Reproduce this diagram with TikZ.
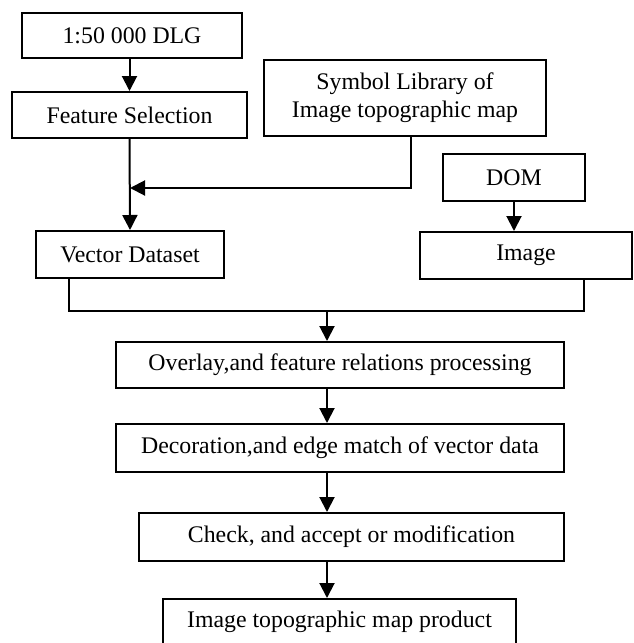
\documentclass[tikz,border=0pt]{standalone}
\usepackage{fontspec}
\setmainfont{Liberation Serif}
\usepackage{tikz}
\usetikzlibrary{positioning,calc,arrows.meta}

\begin{document}
\begin{tikzpicture}[x=0.5pt,y=-0.5pt,
		box/.style={rectangle,draw,line width=1pt,inner sep=0pt,align=center,font=\fontsize{11.9}{14}\selectfont},
		arw/.style={line width=1pt,-{Triangle[length=7.5pt,width=7.5pt]}}]
		
		\useasboundingbox (0,0) rectangle (633,643);
		
		\node[box,minimum width=110pt,minimum height=22.5pt] (D) at (132,35.5){1:50 000 DLG};
		\node[box,minimum width=117.5pt,minimum height=23pt] (F) at (129.5,115){Feature Selection};
		\node[box,minimum width=141pt,minimum height=38pt] (S) at (405,98){Symbol Library of\\Image topographic map};
		\node[box,minimum width=71pt,minimum height=23.5pt] (M) at (514,177.5){DOM};
		\node[box,minimum width=94pt,minimum height=23.5pt] (V) at (130,254.5){Vector Dataset};
		\node[box,minimum width=106pt,minimum height=23.5pt] (I) at (526,255.5){Image};
		\node[box,minimum width=224pt,minimum height=23pt] (O) at (340,365){Overlay,and feature relations processing};
		\node[box,minimum width=224pt,minimum height=24pt] (E) at (340,448){Decoration,and edge match of vector data};
		\node[box,minimum width=212.5pt,minimum height=24pt] (C) at (351.5,537){Check, and accept or modification};
		\node[box,minimum width=176.5pt,minimum height=23pt] (P) at (339.5,622){Image topographic map product};
		
		\coordinate (J) at (130,188);
		\coordinate (K) at (327,311);
		
		\draw[arw] (D.south -| F.north) -- (F.north);
		\draw[arw] (F.south) -- (V.north);
		\draw[arw] ([xshift=3pt]S.south) |- (J);
		\draw[arw] (M.south) -- (M.south |- I.north);
		
		\draw[line width=1pt] ([xshift=-30.5pt]V.south) |- (K) -| ([xshift=29pt]I.south);
		\draw[arw] (K) -- (K |- O.north);
		\draw[arw] (K |- O.south) -- (K |- E.north);
		\draw[arw] (K |- E.south) -- (K |- C.north);
		\draw[arw] (K |- C.south) -- (K |- P.north);
		
\end{tikzpicture}
\end{document}
